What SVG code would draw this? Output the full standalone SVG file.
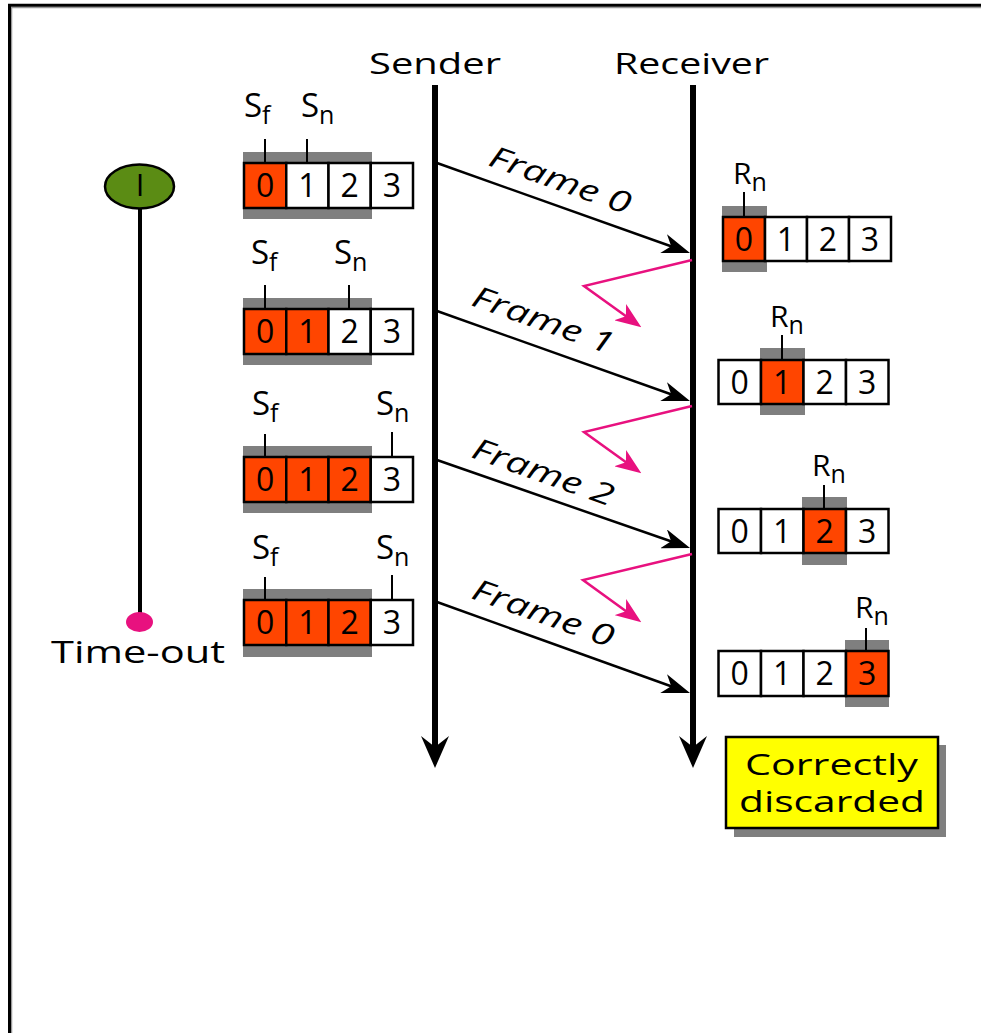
<svg xmlns="http://www.w3.org/2000/svg" width="981" height="1033" viewBox="0 0 981 1033">
<defs>
<style>
text{font-family:"Open Sans","Liberation Sans",sans-serif;fill:#000}
.cell{fill:#fff;stroke:#000;stroke-width:2.5}
.on{fill:#FF4500}
.sh{fill:#7f7f7f}
.dg{font-size:32px;text-anchor:middle}
.lbl{font-size:33px}
.rl{font-size:30px}
.sub{font-size:25px}
.tick{stroke:#000;stroke-width:2}
.fr{font-size:30px;font-style:italic}
.msg{stroke:#000;stroke-width:2.5;fill:none}
.lost{stroke:#E8117F;stroke-width:2.5;fill:none}
.tl{stroke:#000;stroke-width:6}
</style>
<marker id="ah" markerUnits="userSpaceOnUse" viewBox="0 0 28 20" markerWidth="28" markerHeight="20" refX="16" refY="10" orient="auto"><path d="M0,0 L28,10 L0,20 L8,10 Z" fill="#000"/></marker>
<marker id="ahp" markerUnits="userSpaceOnUse" viewBox="0 0 26 20" markerWidth="26" markerHeight="20" refX="14" refY="10" orient="auto"><path d="M0,0 L26,10 L0,20 L7,10 Z" fill="#E8117F"/></marker>
</defs>
<rect width="981" height="1033" fill="#fff"/>
<g id="border">
<line x1="11.5" y1="7" x2="11.5" y2="1033" stroke="#999" stroke-width="1.5"/>
<line x1="11" y1="7.5" x2="981" y2="7.5" stroke="#999" stroke-width="1.5"/>
<line x1="9.5" y1="4" x2="9.5" y2="1033" stroke="#000" stroke-width="3"/>
<line x1="8" y1="5.3" x2="981" y2="5.3" stroke="#000" stroke-width="3"/>
</g>

<g id="sender">
<text x="369" y="74" style="font-size:29px" textLength="132" lengthAdjust="spacingAndGlyphs">Sender</text>
<line class="tl" x1="435" y1="85" x2="435" y2="752"/>
<polygon points="435,768 421,736 435,747 449,736" fill="#000"/>
</g>
<g id="receiver">
<text x="614" y="74" style="font-size:29px" textLength="155" lengthAdjust="spacingAndGlyphs">Receiver</text>
<line class="tl" x1="693" y1="85" x2="693" y2="752"/>
<polygon points="693,768 679,736 693,747 707,736" fill="#000"/>
</g>

<g id="timer">
<line x1="140" y1="208" x2="140" y2="614" stroke="#000" stroke-width="4"/>
<ellipse cx="139.5" cy="186.5" rx="34.5" ry="22" fill="#5B8C14" stroke="#000" stroke-width="2.5"/>
<text x="140" y="196" style="font-size:31px" text-anchor="middle">I</text>
<ellipse cx="139.5" cy="622" rx="13.5" ry="10" fill="#E8117F"/>
<text x="51" y="663" style="font-size:31px" textLength="174" lengthAdjust="spacingAndGlyphs">Time-out</text>
</g>

<g id="sender-window-1">
<rect class="sh" x="243" y="152" width="129" height="67"/>
<rect class="cell on" x="244" y="163" width="42.25" height="45"/>
<rect class="cell" x="286.25" y="163" width="42.25" height="45"/>
<rect class="cell" x="328.5" y="163" width="42.25" height="45"/>
<rect class="cell" x="370.75" y="163" width="42.25" height="45"/>
<text class="dg" x="265.1" y="197">0</text><text class="dg" x="307.4" y="197">1</text><text class="dg" x="349.6" y="197">2</text><text class="dg" x="391.9" y="197">3</text>
<line class="tick" x1="265" y1="139" x2="265" y2="163"/>
<line class="tick" x1="307" y1="139" x2="307" y2="163"/>
<text class="lbl" x="244" y="117">S<tspan class="sub" dy="7">f</tspan></text>
<text class="lbl" x="301" y="117">S<tspan class="sub" dy="7">n</tspan></text>
</g>

<g id="sender-window-2">
<rect class="sh" x="243" y="298" width="129" height="67"/>
<rect class="cell on" x="244" y="309" width="42.25" height="45"/>
<rect class="cell on" x="286.25" y="309" width="42.25" height="45"/>
<rect class="cell" x="328.5" y="309" width="42.25" height="45"/>
<rect class="cell" x="370.75" y="309" width="42.25" height="45"/>
<text class="dg" x="265.1" y="343">0</text><text class="dg" x="307.4" y="343">1</text><text class="dg" x="349.6" y="343">2</text><text class="dg" x="391.9" y="343">3</text>
<line class="tick" x1="265" y1="285" x2="265" y2="309"/>
<line class="tick" x1="349" y1="285" x2="349" y2="309"/>
<text class="lbl" x="251" y="264">S<tspan class="sub" dy="7">f</tspan></text>
<text class="lbl" x="334" y="264">S<tspan class="sub" dy="7">n</tspan></text>
</g>

<g id="sender-window-3">
<rect class="sh" x="243" y="446" width="129" height="67"/>
<rect class="cell on" x="244" y="457" width="42.25" height="45"/>
<rect class="cell on" x="286.25" y="457" width="42.25" height="45"/>
<rect class="cell on" x="328.5" y="457" width="42.25" height="45"/>
<rect class="cell" x="370.75" y="457" width="42.25" height="45"/>
<text class="dg" x="265.1" y="491">0</text><text class="dg" x="307.4" y="491">1</text><text class="dg" x="349.6" y="491">2</text><text class="dg" x="391.9" y="491">3</text>
<line class="tick" x1="265" y1="434" x2="265" y2="457"/>
<line class="tick" x1="392" y1="432" x2="392" y2="457"/>
<text class="lbl" x="252" y="415">S<tspan class="sub" dy="7">f</tspan></text>
<text class="lbl" x="376" y="415">S<tspan class="sub" dy="7">n</tspan></text>
</g>

<g id="sender-window-4">
<rect class="sh" x="243" y="589" width="129" height="68"/>
<rect class="cell on" x="244" y="600" width="42.25" height="45"/>
<rect class="cell on" x="286.25" y="600" width="42.25" height="45"/>
<rect class="cell on" x="328.5" y="600" width="42.25" height="45"/>
<rect class="cell" x="370.75" y="600" width="42.25" height="45"/>
<text class="dg" x="265.1" y="634">0</text><text class="dg" x="307.4" y="634">1</text><text class="dg" x="349.6" y="634">2</text><text class="dg" x="391.9" y="634">3</text>
<line class="tick" x1="265" y1="577" x2="265" y2="600"/>
<line class="tick" x1="392" y1="575" x2="392" y2="600"/>
<text class="lbl" x="252" y="559">S<tspan class="sub" dy="7">f</tspan></text>
<text class="lbl" x="376" y="559">S<tspan class="sub" dy="7">n</tspan></text>
</g>

<g id="receiver-window-1">
<rect class="sh" x="722" y="206" width="45" height="66"/>
<rect class="cell on" x="723" y="217" width="42" height="44"/>
<rect class="cell" x="765" y="217" width="42" height="44"/>
<rect class="cell" x="807" y="217" width="42" height="44"/>
<rect class="cell" x="849" y="217" width="42" height="44"/>
<text class="dg" x="744" y="251">0</text><text class="dg" x="786" y="251">1</text><text class="dg" x="828" y="251">2</text><text class="dg" x="870" y="251">3</text>
<line class="tick" x1="744" y1="192" x2="744" y2="217"/>
<text class="rl" x="733" y="184">R<tspan class="sub" dy="7">n</tspan></text>
</g>

<g id="receiver-window-2">
<rect class="sh" x="760" y="348" width="45" height="67"/>
<rect class="cell" x="718.5" y="360" width="42.5" height="44"/>
<rect class="cell on" x="761" y="360" width="42.5" height="44"/>
<rect class="cell" x="803.5" y="360" width="42.5" height="44"/>
<rect class="cell" x="846" y="360" width="42.5" height="44"/>
<text class="dg" x="739.75" y="394">0</text><text class="dg" x="782.25" y="394">1</text><text class="dg" x="824.75" y="394">2</text><text class="dg" x="867.25" y="394">3</text>
<line class="tick" x1="782" y1="335" x2="782" y2="360"/>
<text class="rl" x="770" y="327">R<tspan class="sub" dy="7">n</tspan></text>
</g>

<g id="receiver-window-3">
<rect class="sh" x="802" y="497" width="45" height="68"/>
<rect class="cell" x="718.5" y="509" width="42.5" height="44"/>
<rect class="cell" x="761" y="509" width="42.5" height="44"/>
<rect class="cell on" x="803.5" y="509" width="42.5" height="44"/>
<rect class="cell" x="846" y="509" width="42.5" height="44"/>
<text class="dg" x="739.75" y="543">0</text><text class="dg" x="782.25" y="543">1</text><text class="dg" x="824.75" y="543">2</text><text class="dg" x="867.25" y="543">3</text>
<line class="tick" x1="824" y1="485" x2="824" y2="509"/>
<text class="rl" x="812" y="476">R<tspan class="sub" dy="7">n</tspan></text>
</g>

<g id="receiver-window-4">
<rect class="sh" x="845" y="640" width="44" height="67"/>
<rect class="cell" x="718.5" y="651" width="42.5" height="45"/>
<rect class="cell" x="761" y="651" width="42.5" height="45"/>
<rect class="cell" x="803.5" y="651" width="42.5" height="45"/>
<rect class="cell on" x="846" y="651" width="42.5" height="45"/>
<text class="dg" x="739.75" y="685">0</text><text class="dg" x="782.25" y="685">1</text><text class="dg" x="824.75" y="685">2</text><text class="dg" x="867.25" y="685">3</text>
<line class="tick" x1="866" y1="628" x2="866" y2="651"/>
<text class="rl" x="855" y="618">R<tspan class="sub" dy="7">n</tspan></text>
</g>

<g id="note">
<rect x="734" y="745" width="212" height="92" fill="#7f7f7f"/>
<rect x="726" y="737" width="212" height="91" fill="#FFFF00" stroke="#000" stroke-width="2.5"/>
<text x="745" y="775" style="font-size:29px" textLength="173" lengthAdjust="spacingAndGlyphs">Correctly</text>
<text x="739" y="812" style="font-size:29px" textLength="186" lengthAdjust="spacingAndGlyphs">discarded</text>
</g>

<g id="connectors">
<line class="msg" x1="437" y1="163" x2="678.7" y2="249" marker-end="url(#ah)"/>
<line class="msg" x1="437" y1="311" x2="678.7" y2="397" marker-end="url(#ah)"/>
<line class="msg" x1="437" y1="460" x2="678.7" y2="544" marker-end="url(#ah)"/>
<line class="msg" x1="437" y1="602" x2="678.7" y2="689" marker-end="url(#ah)"/>
<polyline class="lost" points="692,260 584,286 631.6,320.3" marker-end="url(#ahp)"/>
<polyline class="lost" points="692,406 584,432 631.6,466.3" marker-end="url(#ahp)"/>
<polyline class="lost" points="692,554 583,580 631.6,615.3" marker-end="url(#ahp)"/>
<text class="fr" transform="translate(487,165) rotate(19.6)" textLength="148" lengthAdjust="spacingAndGlyphs">Frame 0</text>
<text class="fr" transform="translate(470,305) rotate(19.6)" textLength="148" lengthAdjust="spacingAndGlyphs">Frame 1</text>
<text class="fr" transform="translate(470,457) rotate(19.6)" textLength="148" lengthAdjust="spacingAndGlyphs">Frame 2</text>
<text class="fr" transform="translate(470,598) rotate(19.6)" textLength="148" lengthAdjust="spacingAndGlyphs">Frame 0</text>
</g>
</svg>
